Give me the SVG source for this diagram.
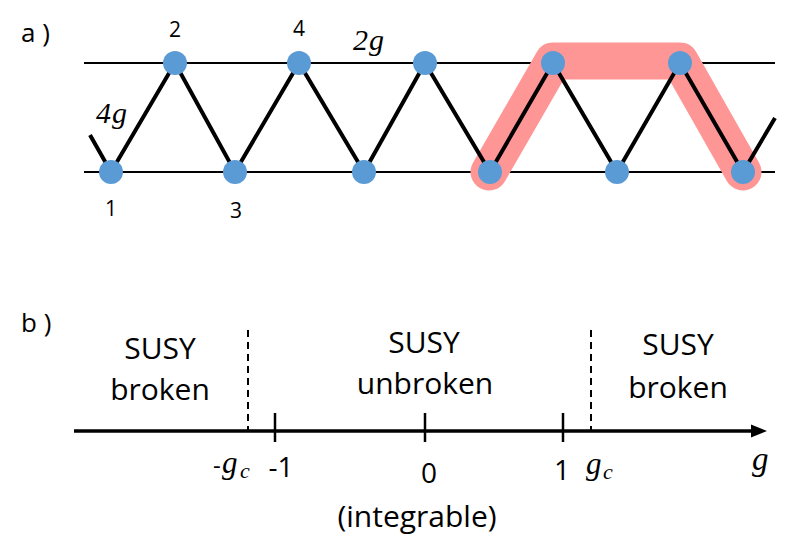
<svg xmlns="http://www.w3.org/2000/svg" width="789" height="557" viewBox="0 0 789 557">
  <style>
    .t { font-family: "Open Sans", "Liberation Sans", sans-serif; fill: #000; }
    .m { font-family: "Liberation Serif", "DejaVu Serif", serif; font-style: italic; fill: #000; }
    .node { fill: #5B9BD5; }
    .rail { stroke: #000; stroke-width: 2; fill: none; }
    .bond { stroke: #000; stroke-width: 4; fill: none; }
    .tick { stroke: #000; stroke-width: 2.5; }
    .dash { stroke: #000; stroke-width: 2; stroke-dasharray: 7 5; }
  </style>
  <rect width="789" height="557" fill="#fff"/>

  <!-- panel a -->
  <text class="t" x="21" y="42" font-size="26">a )</text>
  <g id="rails">
    <line class="rail" x1="84" y1="63" x2="775" y2="63"/>
    <line class="rail" x1="84" y1="172" x2="775" y2="172"/>
  </g>
  <g id="highlight">
    <path d="M489 172 L553 61 L680 61 L743 172" fill="none" stroke="#FF9696" stroke-width="37" stroke-linecap="round" stroke-linejoin="round"/>
  </g>
  <g id="connectors">
    <polyline class="bond" points="90,135 111,172 175,63 235,172 299,63 364,172 425,63 490,172 553,63 617,172 680,63 743,172 775,118"/>
  </g>
  <g id="n1"><circle class="node" cx="111" cy="172" r="12"/></g>
  <g id="n2"><circle class="node" cx="175" cy="63" r="12"/></g>
  <g id="n3"><circle class="node" cx="235" cy="172" r="12"/></g>
  <g id="n4"><circle class="node" cx="299" cy="63" r="12"/></g>
  <g id="n5"><circle class="node" cx="364" cy="172" r="12"/></g>
  <g id="n6"><circle class="node" cx="425" cy="63" r="12"/></g>
  <g id="n7"><circle class="node" cx="490" cy="172" r="12"/></g>
  <g id="n8"><circle class="node" cx="553" cy="63" r="12"/></g>
  <g id="n9"><circle class="node" cx="617" cy="172" r="12"/></g>
  <g id="n10"><circle class="node" cx="680" cy="63" r="12"/></g>
  <g id="n11"><circle class="node" cx="743" cy="172" r="12"/></g>

  <g id="labels-a">
    <text class="t" x="175" y="37" font-size="21" text-anchor="middle">2</text>
    <text class="t" x="299" y="36" font-size="21" text-anchor="middle">4</text>
    <text class="t" x="111" y="216" font-size="21" text-anchor="middle">1</text>
    <text class="t" x="236" y="218" font-size="21" text-anchor="middle">3</text>
    <text class="m" x="96" y="123" font-size="30" font-style="normal">4</text>
    <text class="m" x="112" y="123" font-size="30">g</text>
    <text class="m" x="353" y="50" font-size="30" font-style="normal">2</text>
    <text class="m" x="369" y="50" font-size="30">g</text>
  </g>

  <!-- panel b -->
  <text class="t" x="21" y="332" font-size="26">b )</text>
  <g id="axis">
    <line x1="74" y1="431" x2="756" y2="431" stroke="#000" stroke-width="3.5"/>
    <polygon points="751,424.5 767,431 751,437.5" fill="#000"/>
    <line class="tick" x1="275" y1="413" x2="275" y2="442"/>
    <line class="tick" x1="425" y1="413" x2="425" y2="442"/>
    <line class="tick" x1="563" y1="413" x2="563" y2="442"/>
    <line class="dash" x1="248" y1="330" x2="248" y2="431"/>
    <line class="dash" x1="591" y1="330" x2="591" y2="431"/>
  </g>
  <g id="region-left">
    <text class="t" x="160" y="359" font-size="30" text-anchor="middle">SUSY</text>
    <text class="t" x="160" y="400" font-size="30" text-anchor="middle">broken</text>
  </g>
  <g id="region-mid">
    <text class="t" x="424" y="353" font-size="30" text-anchor="middle">SUSY</text>
    <text class="t" x="425" y="394" font-size="30" text-anchor="middle">unbroken</text>
  </g>
  <g id="region-right">
    <text class="t" x="678" y="355" font-size="30" text-anchor="middle">SUSY</text>
    <text class="t" x="678" y="398" font-size="30" text-anchor="middle">broken</text>
  </g>
  <g id="tick-labels">
    <text class="t" x="213" y="474" font-size="24">-</text>
    <text class="m" x="222" y="473" font-size="31">g</text>
    <text class="m" x="240" y="478" font-size="22">c</text>
    <text class="t" x="281" y="477" font-size="28" text-anchor="middle">-1</text>
    <text class="t" x="429" y="483" font-size="28" text-anchor="middle">0</text>
    <text class="t" x="562" y="480" font-size="28" text-anchor="middle">1</text>
    <text class="m" x="586" y="474" font-size="31">g</text>
    <text class="m" x="603" y="479" font-size="22">c</text>
    <text class="m" x="752" y="470" font-size="33">g</text>
    <text class="t" x="417" y="527" font-size="30" text-anchor="middle">(integrable)</text>
  </g>
</svg>
